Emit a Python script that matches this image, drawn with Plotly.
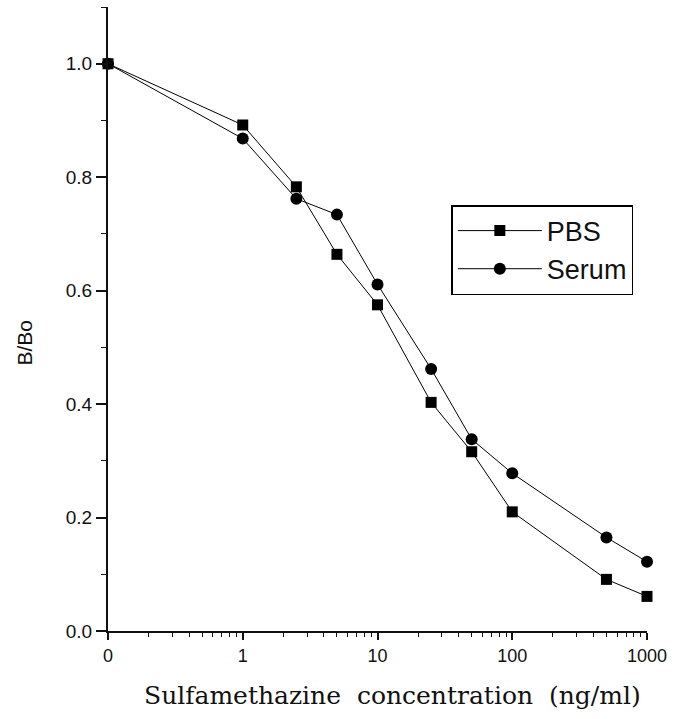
import plotly.graph_objects as go

# Concentration (ng/ml); "0" is placed at the 0.1 position on the log axis
conc = [0.1, 1, 2.5, 5, 10, 25, 50, 100, 500, 1000]
pbs = [1.0, 0.892, 0.783, 0.664, 0.575, 0.403, 0.316, 0.210, 0.091, 0.061]
serum = [1.0, 0.868, 0.762, 0.734, 0.611, 0.462, 0.338, 0.278, 0.165, 0.122]

x_tickvals = [0.1, 1, 10, 100, 1000]
x_ticktext = ["0", "1", "10", "100", "1000"]
y_tickvals = [0.0, 0.2, 0.4, 0.6, 0.8, 1.0]
y_ticktext = ["0.0", "0.2", "0.4", "0.6", "0.8", "1.0"]

x_title = "Sulfamethazine  concentration  (ng/ml)"
y_title = "B/Bo"

fig = go.Figure()
fig.add_trace(go.Scatter(
    x=conc, y=pbs, name="PBS", mode="lines+markers", legendgroup="a",
    line=dict(color="black", width=1),
    marker=dict(symbol="square", size=11, color="black"),
    cliponaxis=False,
))
fig.add_trace(go.Scatter(
    x=conc, y=serum, name="Serum", mode="lines+markers", legendgroup="b",
    line=dict(color="black", width=1),
    marker=dict(symbol="circle", size=12, color="black"),
    cliponaxis=False,
))

minor_x = [m * 10 ** d for d in range(-1, 3) for m in range(2, 10)]

fig.update_layout(
    width=674, height=719,
    margin=dict(l=108, r=25, t=7, b=88),
    plot_bgcolor="white", paper_bgcolor="white",
    font=dict(family="Liberation Sans, Arial", color="#111"),
    showlegend=True,
    legend=dict(
        x=0.637, y=0.6826, xanchor="left", yanchor="top",
        bordercolor="black", borderwidth=1.5, bgcolor="white",
        font=dict(size=27, family="Liberation Sans, Arial", color="#111"),
        itemwidth=84, tracegroupgap=0,
    ),
    xaxis=dict(
        type="log", range=[-1, 3],
        tickmode="array", tickvals=x_tickvals, ticktext=x_ticktext,
        showgrid=False, zeroline=False,
        showline=True, linecolor="#111", linewidth=2,
        ticks="outside", ticklen=7, tickwidth=1.5, tickcolor="#111",
        tickfont=dict(size=18),
        minor=dict(tickvals=minor_x, ticks="outside", ticklen=4, tickwidth=1, tickcolor="#111", showgrid=False),
    ),
    yaxis=dict(
        range=[0, 1.1],
        tickmode="array", tickvals=y_tickvals, ticktext=y_ticktext,
        showgrid=False, zeroline=False,
        showline=True, linecolor="#111", linewidth=2,
        ticks="outside", ticklen=10, tickwidth=1.5, tickcolor="#111",
        tickfont=dict(size=19),
        minor=dict(dtick=0.1, tick0=0, ticks="outside", ticklen=5, tickwidth=1, tickcolor="#111", showgrid=False),
    ),
    annotations=[
        dict(text=x_title, xref="paper", yref="paper", x=0.527, y=-0.103,
             xanchor="center", yanchor="middle", showarrow=False,
             font=dict(family="DejaVu Serif", size=25, color="#111")),
        dict(text=y_title, xref="paper", yref="paper", x=-0.155, y=0.463,
             xanchor="center", yanchor="middle", showarrow=False, textangle=-90,
             font=dict(family="Liberation Sans, Arial", size=21, color="#111")),
    ],
)

fig.write_html("out.html")
